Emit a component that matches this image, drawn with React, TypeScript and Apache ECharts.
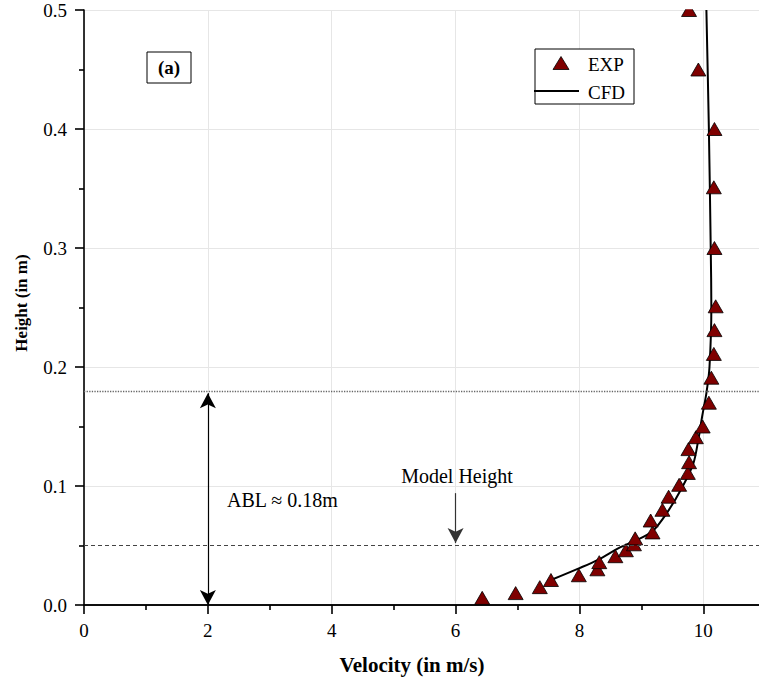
import React, { useEffect, useRef } from "react";
import * as echarts from "echarts";

const expVelocity = [6.43, 6.97, 7.36, 7.54, 7.99, 8.29, 8.32, 8.58, 8.75, 8.88, 8.9, 9.18, 9.15, 9.34, 9.44, 9.61, 9.75, 9.77, 9.76, 9.88, 9.99, 10.09, 10.13, 10.17, 10.18, 10.2, 10.18, 10.17, 10.18, 9.92, 9.77];
const expHeight = [0.006, 0.01, 0.015, 0.021, 0.025, 0.03, 0.036, 0.041, 0.046, 0.051, 0.056, 0.061, 0.071, 0.08, 0.091, 0.101, 0.111, 0.12, 0.131, 0.141, 0.15, 0.17, 0.191, 0.211, 0.231, 0.251, 0.3, 0.351, 0.4, 0.45, 0.5];

const cfdVelocity = [7.54, 8.0, 8.3, 8.64, 8.9, 9.18, 9.42, 9.66, 9.84, 9.92, 9.98, 10.05, 10.1, 10.13, 10.12, 10.09, 10.05];
const cfdHeight = [0.021, 0.031, 0.038, 0.048, 0.054, 0.062, 0.078, 0.099, 0.119, 0.139, 0.158, 0.178, 0.2, 0.25, 0.3, 0.4, 0.5];

const xTicks = { min: 0, max: 12, interval: 2 };
const yTicks = { min: 0, max: 0.5, interval: 0.1 };
const ablHeight = 0.178;
const modelHeight = 0.05;
const ablX = 2;
const modelArrowX = 6;
const modelArrowTop = 0.094;

const legendNames = ["EXP", "CFD"];
const FONT = "Liberation Serif";
const EXP_COLOR = "#7f0000";

export default function App() {
  const ref = useRef<HTMLDivElement>(null);
  useEffect(() => {
    if (!ref.current) return;
    const chart = echarts.init(ref.current, undefined, { renderer: "svg" });
    const axisCommon = {
      axisLine: { show: true, onZero: false, lineStyle: { color: "#000", width: 1.6 } },
      axisTick: { show: true, inside: false, length: 9, lineStyle: { color: "#000", width: 1.6 } },
      minorTick: { show: true, splitNumber: 2, length: 5, lineStyle: { color: "#000", width: 1.6 } },
      splitLine: { show: true, lineStyle: { color: "#e6e6e6", width: 1 } },
      minorSplitLine: { show: false },
    };
    chart.setOption({
      animation: false,
      backgroundColor: "#fff",
      textStyle: { fontFamily: FONT },
      grid: {
        left: 84,
        top: 10,
        width: 12 * 61.93,
        height: 595,
        containLabel: false,
        outerBoundsMode: "none",
      },
      xAxis: [
        {
          type: "value",
          min: xTicks.min,
          max: xTicks.max,
          interval: xTicks.interval,
          ...axisCommon,
          axisLabel: { color: "#000", fontSize: 19, fontFamily: FONT, margin: 16, showMaxLabel: false },
        },
        {
          type: "value",
          position: "top",
          min: xTicks.min,
          max: xTicks.max,
          interval: xTicks.interval,
          axisLine: { show: true, lineStyle: { color: "#000", width: 1.6 } },
          axisTick: { show: false },
          axisLabel: { show: false },
          splitLine: { show: false },
        },
      ],
      yAxis: {
        type: "value",
        min: yTicks.min,
        max: yTicks.max,
        interval: yTicks.interval,
        ...axisCommon,
        axisLabel: {
          color: "#000",
          fontSize: 19,
          fontFamily: FONT,
          margin: 17,
          formatter: (v: number) => v.toFixed(1),
        },
      },
      series: [
        {
          name: legendNames[1],
          type: "line",
          data: cfdVelocity.map((v, i) => [v, cfdHeight[i]]),
          symbol: "none",
          smooth: 0.3,
          lineStyle: { color: "#000", width: 2 },
          itemStyle: { color: "#000" },
          z: 3,
        },
        {
          name: legendNames[0],
          type: "scatter",
          data: expVelocity.map((v, i) => [v, expHeight[i]]),
          symbol: "triangle",
          symbolSize: [15, 13],
          itemStyle: { color: EXP_COLOR, borderColor: "#000", borderWidth: 0.8, opacity: 1 },
          z: 4,
        },
        {
          name: "ablLines",
          type: "line",
          data: [],
          markLine: {
            silent: true,
            animation: false,
            symbol: ["none", "none"],
            label: { show: false },
            data: [
              { yAxis: ablHeight, lineStyle: { type: "dotted", color: "#666", width: 1.3 } },
              { yAxis: modelHeight, lineStyle: { type: [4, 3], color: "#444", width: 1 } },
            ],
          },
        },
        {
          name: "ablArrow",
          type: "line",
          data: [],
          markLine: {
            silent: true,
            animation: false,
            symbol: ["arrow", "arrow"],
            symbolSize: [12, 15],
            label: { show: false },
            lineStyle: { type: "solid", color: "#000", width: 1.2 },
            data: [[{ coord: [ablX, 0] }, { coord: [ablX, ablHeight] }]],
          },
        },
        {
          name: "modelArrow",
          type: "line",
          data: [],
          markLine: {
            silent: true,
            animation: false,
            symbol: ["none", "arrow"],
            symbolSize: [12, 15],
            label: { show: false },
            lineStyle: { type: "solid", color: "#333", width: 1.2 },
            data: [[{ coord: [modelArrowX, modelArrowTop] }, { coord: [modelArrowX, modelHeight + 0.002] }]],
          },
        },
      ],
      graphic: [
        {
          type: "rect",
          shape: { x: 85, y: 0, width: 680, height: 9.2 },
          style: { fill: "#fff" },
          z: 100,
          silent: true,
        },
        {
          type: "rect",
          shape: { x: 147, y: 52, width: 44, height: 31 },
          style: { fill: "#fff", stroke: "#000", lineWidth: 1 },
          z: 50,
        },
        {
          type: "text",
          x: 169,
          y: 67.5,
          z: 51,
          style: { text: "(a)", fontFamily: FONT, fontSize: 19, fontWeight: "bold", fill: "#000", align: "center", verticalAlign: "middle" },
        },
        {
          type: "rect",
          shape: { x: 535, y: 49, width: 99, height: 55 },
          style: { fill: "#fff", stroke: "#000", lineWidth: 1 },
          z: 50,
        },
        {
          type: "polygon",
          shape: { points: [[561, 56.5], [569, 69.5], [553, 69.5]] },
          style: { fill: EXP_COLOR, stroke: "#000", lineWidth: 0.8 },
          z: 51,
        },
        {
          type: "line",
          shape: { x1: 534, y1: 91, x2: 579, y2: 91 },
          style: { stroke: "#000", lineWidth: 2 },
          z: 51,
        },
        {
          type: "text",
          x: 588,
          y: 64,
          z: 51,
          style: { text: legendNames[0], fontFamily: FONT, fontSize: 19, fill: "#000", align: "left", verticalAlign: "middle" },
        },
        {
          type: "text",
          x: 588,
          y: 92,
          z: 51,
          style: { text: legendNames[1], fontFamily: FONT, fontSize: 19, fill: "#000", align: "left", verticalAlign: "middle" },
        },
        {
          type: "text",
          x: 227,
          y: 500,
          z: 51,
          style: { text: "ABL ≈ 0.18m", fontFamily: FONT, fontSize: 20, fill: "#000", align: "left", verticalAlign: "middle" },
        },
        {
          type: "text",
          x: 457,
          y: 476,
          z: 51,
          style: { text: "Model Height", fontFamily: FONT, fontSize: 20, fill: "#000", align: "center", verticalAlign: "middle" },
        },
        {
          type: "text",
          x: 412,
          y: 665,
          z: 51,
          style: { text: "Velocity (in m/s)", fontFamily: FONT, fontSize: 21, fontWeight: "bold", fill: "#000", align: "center", verticalAlign: "middle" },
        },
        {
          type: "text",
          x: 21,
          y: 303,
          rotation: Math.PI / 2,
          z: 51,
          style: { text: "Height (in m)", fontFamily: FONT, fontSize: 17, fontWeight: "bold", fill: "#000", align: "center", verticalAlign: "middle" },
        },
      ],
    });
    return () => chart.dispose();
  }, []);
  return <div ref={ref} style={{ position: "absolute", left: 0, top: 0, width: 759, height: 680 }} />;
}
